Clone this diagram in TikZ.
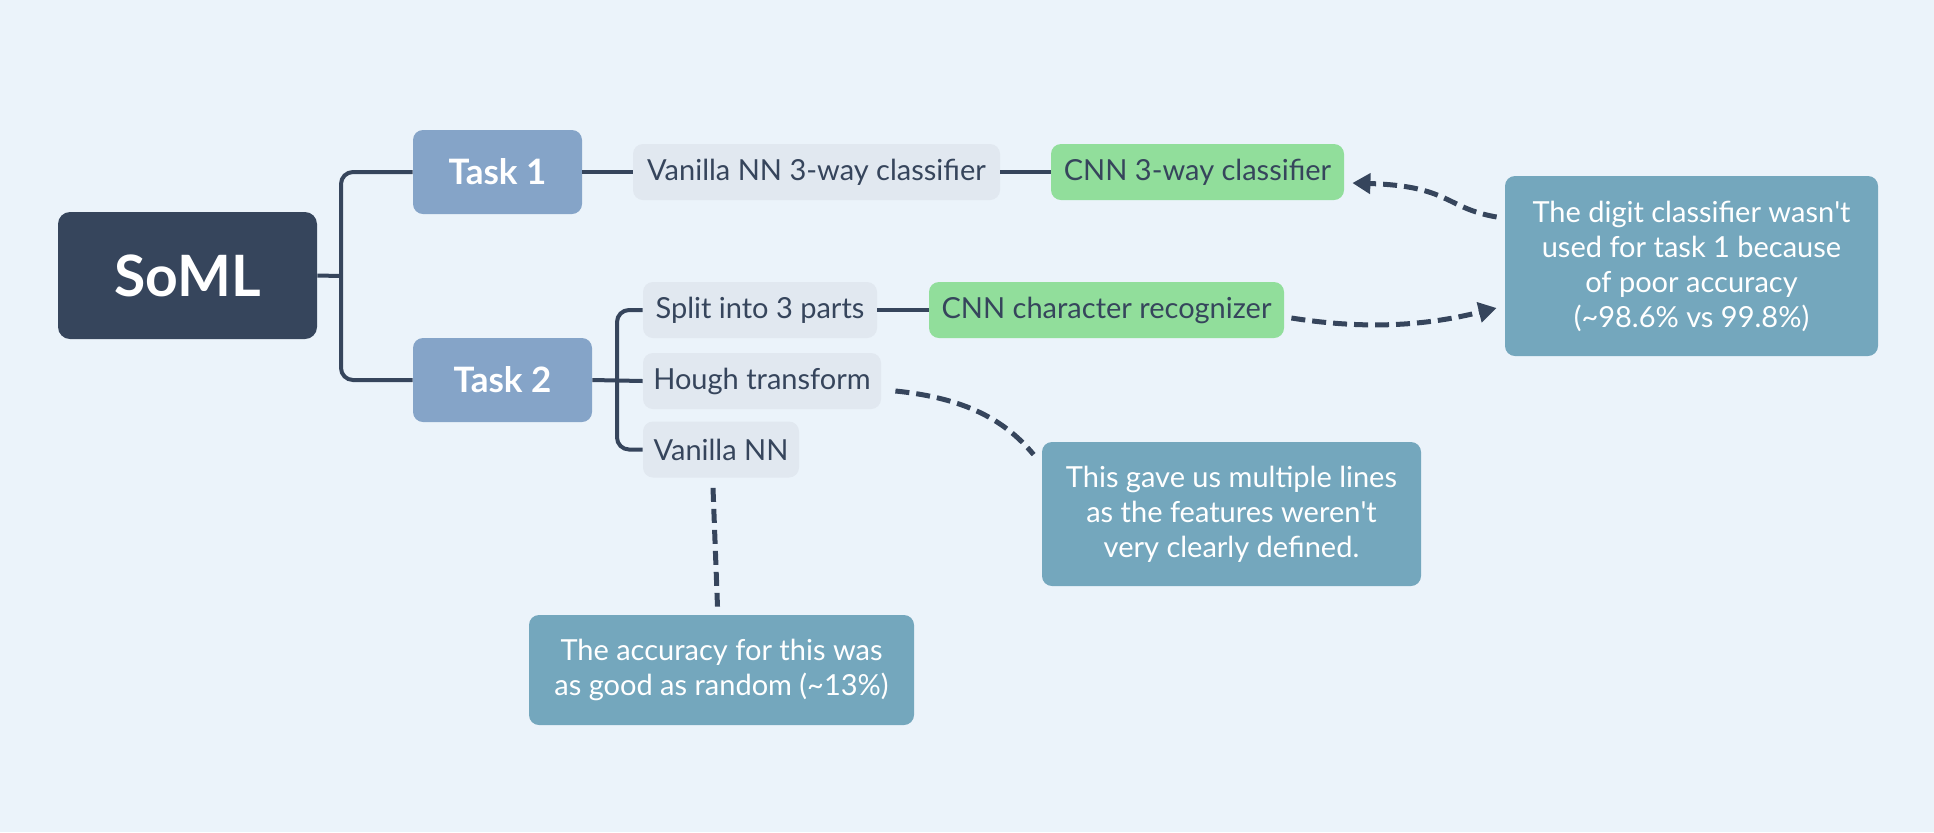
\documentclass[tikz,border=0pt]{standalone}
\usepackage{fontspec}
\setmainfont{Lato}
\usetikzlibrary{arrows.meta,calc}
\definecolor{bgcol}{RGB}{235,243,250}
\definecolor{rootcol}{RGB}{54,69,92}
\definecolor{taskcol}{RGB}{133,164,200}
\definecolor{leafcol}{RGB}{225,232,240}
\definecolor{bestcol}{RGB}{145,222,155}
\definecolor{notecol}{RGB}{116,167,189}
\begin{document}
\begin{tikzpicture}[x=0.5pt,y=-0.5pt]
\tikzstyle{box}=[rounded corners=5pt,inner sep=0pt,align=center]
\tikzstyle{root}=[box,rounded corners=6pt,fill=rootcol,text=white,font=\fontsize{28.5}{34}\selectfont\bfseries]
\tikzstyle{task}=[box,fill=taskcol,text=white,minimum height=42pt,font=\fontsize{17.5}{21}\selectfont\bfseries]
\tikzstyle{leaf}=[box,fill=leafcol,text=rootcol,minimum height=28pt,font=\fontsize{14.5}{17}\selectfont]
\tikzstyle{best}=[leaf,fill=bestcol]
\tikzstyle{note}=[box,fill=notecol,text=white,font=\fontsize{14.5}{17.5}\selectfont]
\tikzstyle{branch}=[draw=rootcol,line width=2pt,rounded corners=6pt]
\tikzstyle{remark}=[draw=rootcol,line width=2.5pt,dash pattern=on 7pt off 3.5pt]
\fill[bgcol] (0,0) rectangle (1934,832);
\useasboundingbox (0,0) rectangle (1934,832);

\node[root,minimum width=129.5pt,minimum height=63.5pt] (soml) at (187.5,275.5) {SoML};
\node[task,minimum width=84.5pt] (task1) at (497.5,172) {Task 1};
\node[task,minimum width=89.5pt] (task2) at (502.5,380) {Task 2};
\node[leaf,minimum width=183.5pt] (vanilla3) at (816.5,172) {Vanilla NN 3-way classifier};
\node[best,minimum width=146.5pt] (cnn3) at (1197.5,172) {CNN 3-way classifier};
\node[leaf,minimum width=117pt] (split) at (760,310) {Split into 3 parts};
\node[best,minimum width=177.5pt] (cnnchar) at (1106.5,310) {CNN character recognizer};
\node[leaf,minimum width=119pt] (hough) at (762,381) {Hough transform};
\node[leaf,minimum width=78pt] (vanilla) at (721,449.5) {Vanilla NN};
\node[note,minimum width=186.5pt,minimum height=90pt] (digit) at (1691.5,266)
  {The digit classifier wasn\textquotesingle t\\used for task 1 because\\of poor accuracy\\(\textasciitilde98.6\% vs 99.8\%)};
\node[note,minimum width=189.5pt,minimum height=72pt] (lines) at (1231.5,514)
  {This gave us multiple lines\\as the features weren\textquotesingle t\\very clearly defined.};
\node[note,minimum width=192.5pt,minimum height=55pt] (random) at (721.5,670)
  {The accuracy for this was\\as good as random (\textasciitilde13\%)};

% tree
\draw[branch] (soml.east) -- (341,276);
\draw[branch] (task1.west) -| (341,276) |- (task2.west);
\draw[branch] (task1.east) -- (vanilla3.west);
\draw[branch] (vanilla3.east) -- (cnn3.west);
\draw[branch] (task2.east) -- (hough.west);
\draw[branch] (split.west) -| (617,380) |- (vanilla.west);
\draw[branch] (split.east) -- (cnnchar.west);

% notes
\draw[remark,-{Triangle[length=9pt,width=10pt]}] ($(digit.west)+(-8,-49)$)
  .. controls (1445,208) and (1450,186) .. ($(cnn3.east)+(8,11)$);
\draw[remark,-{Triangle[length=9pt,width=10pt]}] ($(cnnchar.east)+(7,8)$)
  .. controls (1380,332) and (1440,322) .. ($(digit.west)+(-8,42)$);
\draw[remark] ($(hough.east)+(14,10)$) .. controls (965,398) and (1005,420) .. ($(lines.north west)+(-8,13)$);
\draw[remark] ($(vanilla.south)+(-8,10)$) -- ($(random.north)+(-4,-8)$);
\end{tikzpicture}
\end{document}
